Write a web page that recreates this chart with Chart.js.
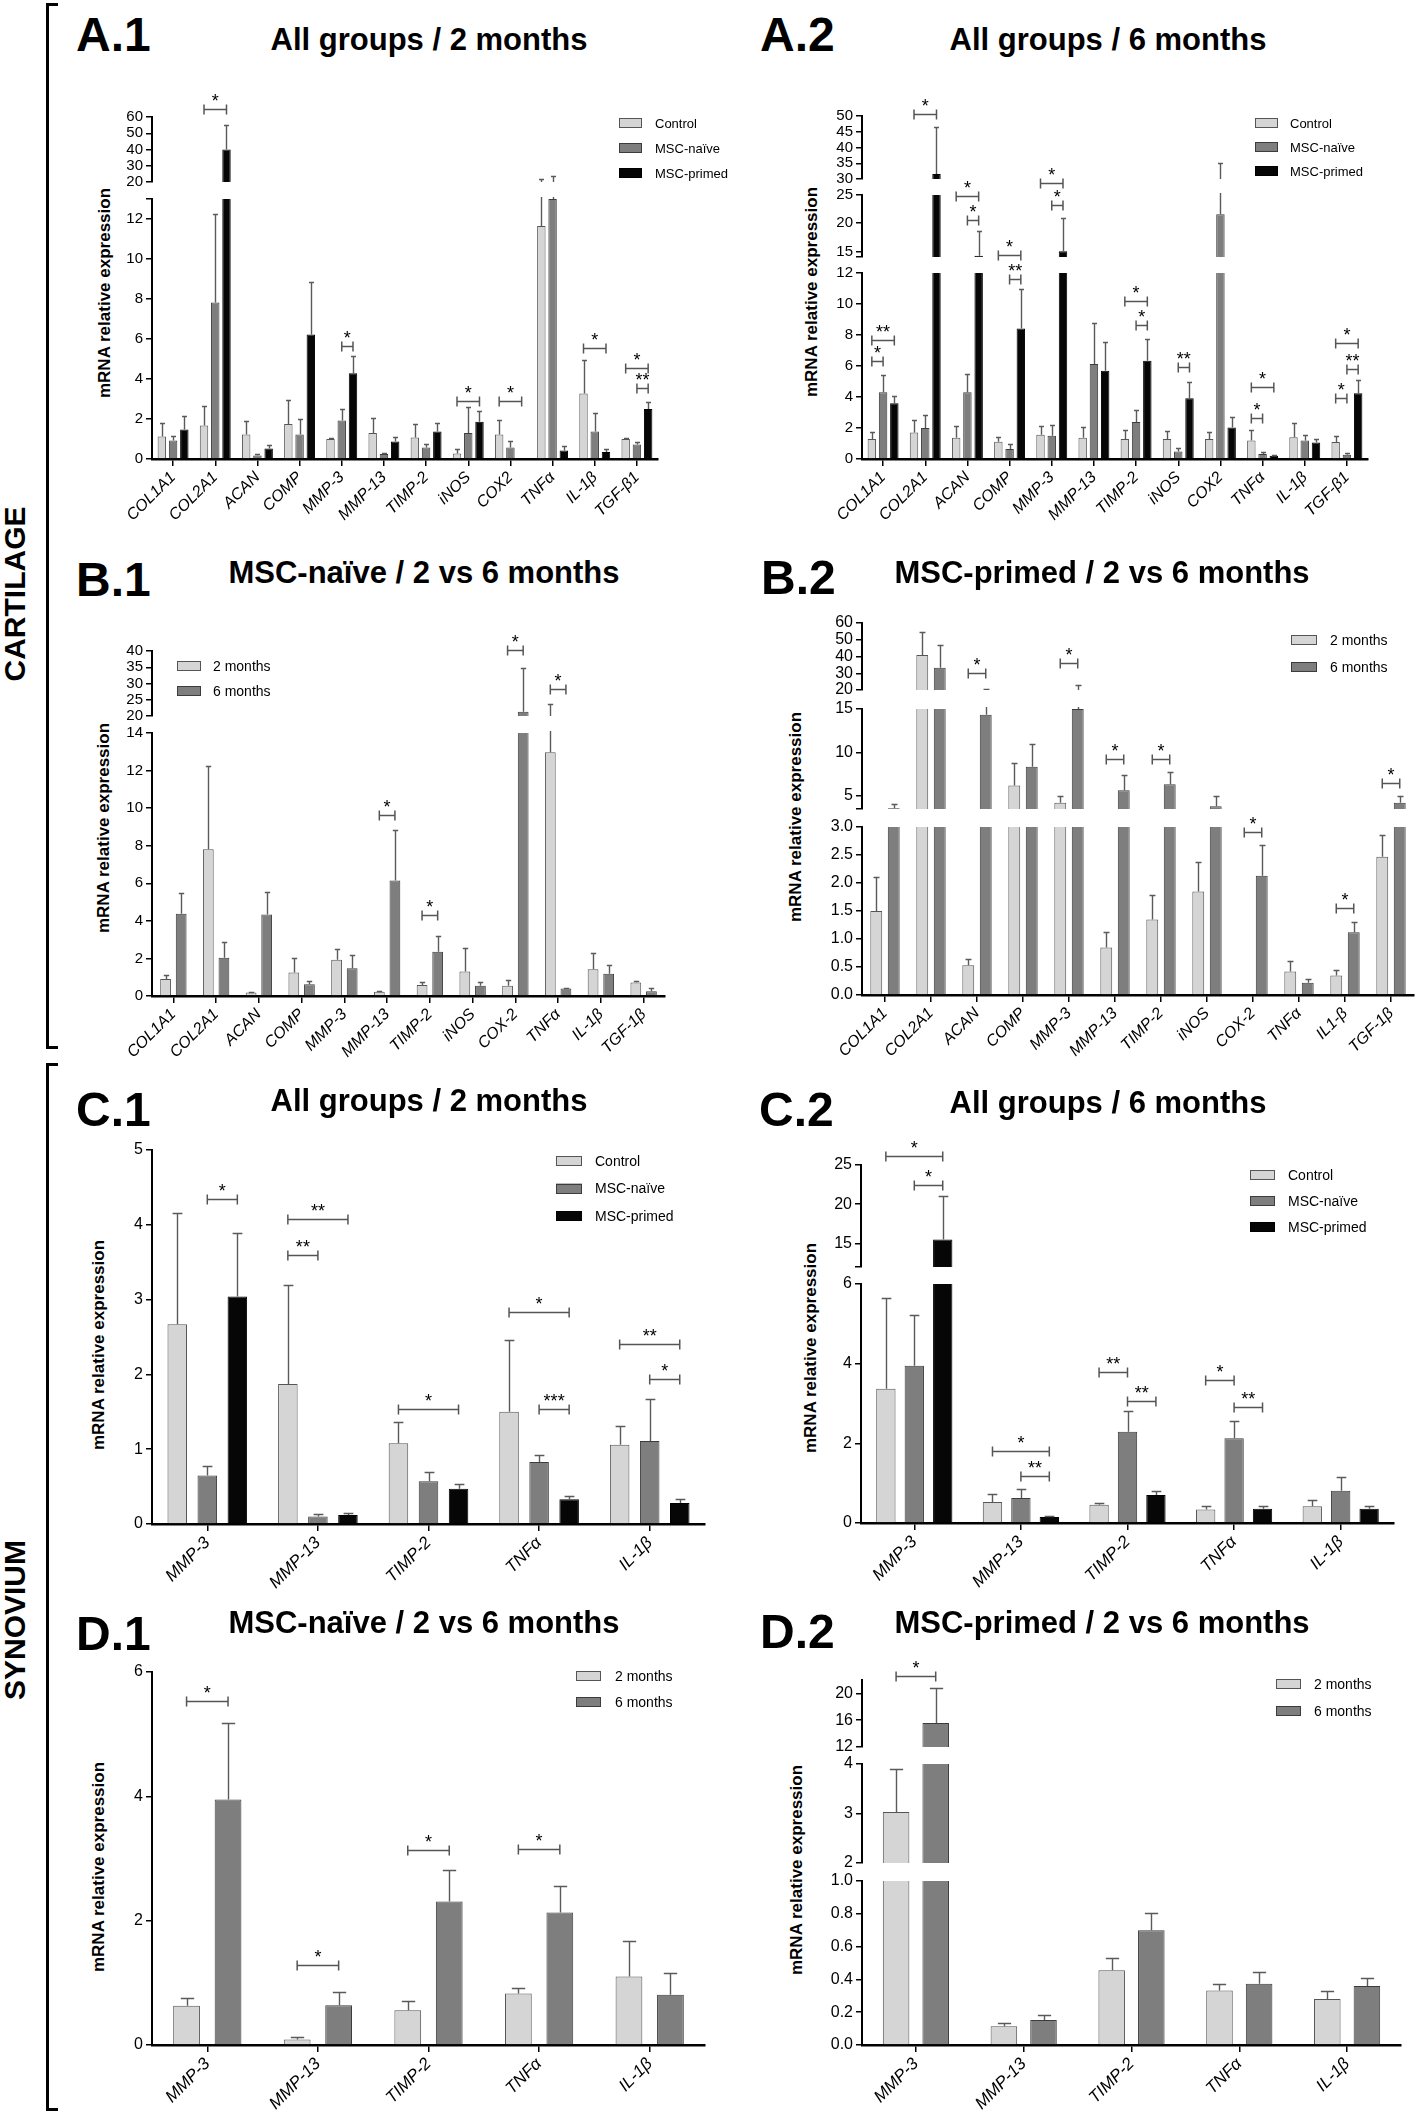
<!DOCTYPE html>
<html><head><meta charset="utf-8">
<script src="https://cdn.jsdelivr.net/npm/chart.js@4.4.1/dist/chart.umd.min.js"></script>
<style>
html,body{margin:0;padding:0;background:#fff;}
body{position:relative;width:1418px;height:2114px;overflow:hidden;font-family:'Liberation Sans',Arial,Helvetica,sans-serif;color:#000;}
.t{position:absolute;white-space:nowrap;line-height:1;}
.rot{position:absolute;white-space:nowrap;line-height:1;transform:translate(-50%,-50%) rotate(-90deg);font-weight:bold;}
.brk{position:absolute;background:#000;}
</style></head><body>
<script>
// ---------------- DATA ----------------
const catsA  = ['COL1A1','COL2A1','ACAN','COMP','MMP-3','MMP-13','TIMP-2','iNOS','COX2','TNFα','IL-1β','TGF-β1'];
const catsB1 = ['COL1A1','COL2A1','ACAN','COMP','MMP-3','MMP-13','TIMP-2','iNOS','COX-2','TNFα','IL-1β','TGF-1β'];
const catsB2 = ['COL1A1','COL2A1','ACAN','COMP','MMP-3','MMP-13','TIMP-2','iNOS','COX-2','TNFα','IL1-β','TGF-1β'];
const catsSyn = ['MMP-3','MMP-13','TIMP-2','TNFα','IL-1β'];
const groups3 = ['Control','MSC-naïve','MSC-primed'];
const groups2 = ['2 months','6 months'];

// A.1 cartilage, all groups, 2 months (mean, SEM)
const A1_control    = [1.13,1.68,1.22,1.75,1.00,1.30,1.08,0.28,1.22,11.65,3.28,1.00];
const A1_controlErr = [0.67,0.98,0.66,1.18,0.03,0.73,0.67,0.20,0.71,9.95,1.68,0.05];
const A1_naive      = [0.93,7.82,0.18,1.22,1.93,0.25,0.57,1.30,0.57,13.0,1.37,0.72];
const A1_naiveErr   = [0.20,4.41,0.09,0.78,0.57,0.05,0.18,1.28,0.31,10.7,0.91,0.11];
const A1_primed     = [1.47,40.0,0.53,6.22,4.29,0.87,1.37,1.86,0,0.43,0.35,2.50];
const A1_primedErr  = [0.66,14.9,0.15,2.63,0.84,0.21,0.41,0.52,0,0.24,0.15,0.35];
const A1_sig = [[1,0,2,65,'*'],[4,1,2,5.63,'*'],[7,0,2,2.88,'*'],[8,0,2,2.88,'*'],[10,0,2,5.54,'*'],[11,0,2,4.54,'*'],[11,1,2,3.55,'**']];
const A1_ranges = [[0,13],[20,60]];
const A1_ticks = [[0,2,4,6,8,10,12,13],[20,30,40,50,60]];
const A1_tickLabels = [['0','2','4','6','8','10','12',''],['20','30','40','50','60']];

// A.2 cartilage, all groups, 6 months
const A2_control    = [1.29,1.71,1.37,1.11,1.56,1.37,1.29,1.29,1.29,1.20,1.41,1.09];
const A2_controlErr = [0.45,0.78,0.73,0.28,0.54,0.69,0.60,0.53,0.45,0.64,0.90,0.37];
const A2_naive      = [4.31,2.00,4.31,0.64,1.50,6.13,2.38,0.49,21.6,0.32,1.20,0.28];
const A2_naiveErr   = [1.11,0.85,1.18,0.32,0.69,2.66,0.75,0.22,13.4,0.11,0.36,0.11];
const A2_primed     = [3.60,31.6,14.2,8.42,15.0,5.70,6.34,3.92,2.04,0.21,1.07,4.24];
const A2_primedErr  = [0.49,15.0,4.40,2.55,5.90,1.82,1.40,1.05,0.66,0.07,0.22,0.86];
const A2_sig = [[0,0,2,7.67,'**'],[0,0,1,6.32,'*'],[1,0,2,50.6,'*'],[2,0,2,24.8,'*'],[2,1,2,20.5,'*'],[3,0,2,14.3,'*'],[3,1,2,11.6,'**'],[4,0,2,27.2,'*'],[4,1,2,23.3,'*'],[6,0,2,10.18,'*'],[6,1,2,8.63,'*'],[7,1,2,5.96,'**'],[9,0,2,4.63,'*'],[9,0,1,2.64,'*'],[11,0,2,7.46,'*'],[11,1,2,5.79,'**'],[11,0,1,3.92,'*']];
const A2_ranges = [[0,12],[14,25],[30,50]];
const A2_ticks = [[0,2,4,6,8,10,12],[14,15,20,25],[30,35,40,45,50]];
const A2_tickLabels = [['0','2','4','6','8','10','12'],['','15','20','25'],['30','35','40','45','50']];

// B.1 cartilage, MSC-naive, 2 vs 6 months
const B1_2m    = [0.90,7.81,0.18,1.25,1.93,0.22,0.58,1.30,0.54,12.97,1.43,0.72];
const B1_2mErr = [0.22,4.43,0.04,0.78,0.55,0.05,0.18,1.27,0.31,10.7,0.87,0.09];
const B1_6m    = [4.38,2.03,4.34,0.63,1.48,6.15,2.35,0.54,21.3,0.40,1.19,0.25];
const B1_6mErr = [1.08,0.86,1.21,0.17,0.72,2.66,0.83,0.18,13.5,0.04,0.44,0.15];
const B1_sig = [[8,0,1,40.2,'*'],[9,0,1,28.4,'*'],[5,0,1,9.66,'*'],[6,0,1,4.29,'*']];
const B1_ranges = [[0,14],[20,40]];
const B1_ticks = [[0,2,4,6,8,10,12,14],[20,25,30,35,40]];
const B1_tickLabels = [['0','2','4','6','8','10','12','14'],['20','25','30','35','40']];

// B.2 cartilage, MSC-primed, 2 vs 6 months
const B2_2m    = [1.50,40.9,0.53,6.20,4.22,0.85,1.35,1.85,0,0.42,0.35,2.47];
const B2_2mErr = [0.60,14.0,0.12,2.63,0.78,0.28,0.44,0.53,0,0.19,0.10,0.38];
const B2_6m    = [3.60,33.3,14.34,8.36,15.0,5.66,6.36,3.83,2.13,0.22,1.12,4.22];
const B2_6mErr = [0.45,13.7,6.40,2.62,7.70,1.80,1.34,1.17,0.55,0.07,0.18,0.78];
const B2_sig = [[2,0,1,30.3,'*'],[4,0,1,36,'*'],[5,0,1,9.26,'*'],[6,0,1,9.26,'*'],[11,0,1,6.48,'*'],[8,0,1,2.91,'*'],[10,0,1,1.56,'*']];
const B2_ranges = [[0,3],[3.5,15],[20,60]];
const B2_ticks = [[0,0.5,1,1.5,2,2.5,3],[3.5,5,10,15],[20,30,40,50,60]];
const B2_tickLabels = [['0.0','0.5','1.0','1.5','2.0','2.5','3.0'],['','5','10','15'],['20','30','40','50','60']];

// C.1 synovium, all groups, 2 months
const C1_control    = [2.67,1.87,1.08,1.50,1.06];
const C1_controlErr = [1.49,1.33,0.28,0.96,0.25];
const C1_naive      = [0.65,0.10,0.57,0.83,1.11];
const C1_naiveErr   = [0.12,0.04,0.13,0.09,0.56];
const C1_primed     = [3.04,0.12,0.47,0.33,0.28];
const C1_primedErr  = [0.85,0.03,0.06,0.04,0.05];
const C1_sig = [[0,1,2,4.34,'*'],[1,0,2,4.08,'**'],[1,0,1,3.6,'**'],[2,0,2,1.54,'*'],[3,0,2,2.83,'*'],[3,1,2,1.54,'***'],[4,0,2,2.41,'**'],[4,1,2,1.94,'*']];
const C1_ranges = [[0,5]];
const C1_ticks = [[0,1,2,3,4,5]];
const C1_tickLabels = [['0','1','2','3','4','5']];

// C.2 synovium, all groups, 6 months
const C2_control    = [3.37,0.53,0.46,0.34,0.42];
const C2_controlErr = [2.27,0.21,0.04,0.08,0.15];
const C2_naive      = [3.95,0.63,2.29,2.13,0.81];
const C2_naiveErr   = [1.26,0.22,0.51,0.43,0.34];
const C2_primed     = [15.5,0.15,0.70,0.36,0.36];
const C2_primedErr  = [5.55,0.03,0.10,0.07,0.06];
const C2_sig = [[0,0,2,26.2,'*'],[0,1,2,22.4,'*'],[1,0,2,1.81,'*'],[1,1,2,1.17,'**'],[2,0,1,3.79,'**'],[2,1,2,3.06,'**'],[3,0,1,3.6,'*'],[3,1,2,2.9,'**']];
const C2_ranges = [[0,6],[12,25]];
const C2_ticks = [[0,2,4,6],[12,15,20,25]];
const C2_tickLabels = [['0','2','4','6'],['','15','20','25']];

// D.1 synovium, MSC-naive, 2 vs 6 months
const D1_2m    = [0.63,0.09,0.56,0.83,1.10];
const D1_2mErr = [0.13,0.04,0.14,0.08,0.58];
const D1_6m    = [3.95,0.64,2.31,2.13,0.81];
const D1_6mErr = [1.23,0.22,0.50,0.43,0.35];
const D1_sig = [[0,0,1,5.53,'*'],[1,0,1,1.28,'*'],[2,0,1,3.14,'*'],[3,0,1,3.15,'*']];
const D1_ranges = [[0,6]];
const D1_ticks = [[0,2,4,6]];
const D1_tickLabels = [['0','2','4','6']];

// D.2 synovium, MSC-primed, 2 vs 6 months
const D2_2m    = [3.03,0.115,0.456,0.333,0.281];
const D2_2mErr = [0.86,0.018,0.074,0.040,0.046];
const D2_6m    = [15.6,0.152,0.700,0.373,0.360];
const D2_6mErr = [5.27,0.028,0.106,0.073,0.050];
const D2_sig = [[0,0,1,22.6,'*']];
const D2_ranges = [[0,1],[2,4],[12,22]];
const D2_ticks = [[0,0.2,0.4,0.6,0.8,1],[2,3,4],[12,16,20]];
const D2_tickLabels = [['0.0','0.2','0.4','0.6','0.8','1.0'],['2','3','4'],['12','16','20']];

// ---------------- STYLE / LAYOUT ----------------
const FONT = "'Liberation Sans', Arial, Helvetica, sans-serif";
const C_LIGHT = '#d5d5d5', C_MID = '#7e7e7e', C_DARK = '#060606';
const YW = 50, XH = 80;

function txt(str, x, baseline, size, weight, align) {
  const d = document.createElement('div');
  d.className = 't'; d.textContent = str;
  d.style.font = (weight || 'normal') + ' ' + size + 'px ' + FONT;
  d.style.top = (baseline - 0.8465 * size) + 'px';
  d.style.left = x + 'px';
  if (align === 'center') d.style.transform = 'translateX(-50%)';
  document.body.appendChild(d);
}
function rtxt(str, cx, cy, size) {
  const d = document.createElement('div');
  d.className = 'rot'; d.textContent = str;
  d.style.fontSize = size + 'px'; d.style.left = cx + 'px'; d.style.top = cy + 'px';
  document.body.appendChild(d);
}
function box(x, y, w, h) {
  const d = document.createElement('div'); d.className = 'brk';
  Object.assign(d.style, {left: x + 'px', top: y + 'px', width: w + 'px', height: h + 'px'});
  document.body.appendChild(d);
}

// side brackets & labels
box(46, 3, 3, 1046); box(46, 3, 12, 3); box(46, 1046, 12, 3);
box(46, 1063, 3, 1048); box(46, 1063, 12, 3); box(46, 2108, 12, 3);
rtxt('CARTILAGE', 15, 594, 30);
rtxt('SYNOVIUM', 15, 1620, 30);

const panels = [
  {lab:'A.1', title:'All groups / 2 months', labX:76, labB:48, titleX:429, titleB:48, yTitle:[104,293],
   cats:catsA, names:groups3, vals:[A1_control,A1_naive,A1_primed], errs:[A1_controlErr,A1_naiveErr,A1_primedErr], sig:A1_sig,
   ranges:A1_ranges, ticks:A1_ticks, tickLabels:A1_tickLabels,
   axisL:152, axisR:658, segPx:[[199,459],[117,182]], cTop:70, bar:0.75, cat:0.8, xFont:16, yFont:15,
   legend:{x:619,y0:123,dy:25,tx:655,bw:23,bh:10,font:13}},
  {lab:'A.2', title:'All groups / 6 months', labX:760, labB:48, titleX:1108, titleB:48, yTitle:[811,292],
   cats:catsA, names:groups3, vals:[A2_control,A2_naive,A2_primed], errs:[A2_controlErr,A2_naiveErr,A2_primedErr], sig:A2_sig,
   ranges:A2_ranges, ticks:A2_ticks, tickLabels:A2_tickLabels,
   axisL:862, axisR:1368, segPx:[[273,459],[195,257],[116,179]], cTop:70, bar:0.75, cat:0.8, xFont:16, yFont:15,
   legend:{x:1255,y0:123,dy:24,tx:1290,bw:23,bh:10,font:13}},
  {lab:'B.1', title:'MSC-naïve / 2 vs 6 months', labX:76, labB:593, titleX:424, titleB:581, yTitle:[103,828],
   cats:catsB1, names:groups2, vals:[B1_2m,B1_6m], errs:[B1_2mErr,B1_6mErr], sig:B1_sig,
   ranges:B1_ranges, ticks:B1_ticks, tickLabels:B1_tickLabels,
   axisL:152, axisR:665, segPx:[[733,996],[651,716]], cTop:600, bar:0.69, cat:0.73, xFont:16, yFont:15,
   legend:{x:177,y0:666,dy:25,tx:213,bw:24,bh:10,font:14}},
  {lab:'B.2', title:'MSC-primed / 2 vs 6 months', labX:761, labB:591, titleX:1102, titleB:581, yTitle:[795,817],
   cats:catsB2, names:groups2, vals:[B2_2m,B2_6m], errs:[B2_2mErr,B2_6mErr], sig:B2_sig,
   ranges:B2_ranges, ticks:B2_ticks, tickLabels:B2_tickLabels,
   axisL:862, axisR:1414, segPx:[[827,995],[709,809],[623,690]], cTop:600, bar:0.68, cat:0.76, xFont:16, yFont:16,
   legend:{x:1291,y0:640,dy:27,tx:1330,bw:26,bh:10,font:14}},
  {lab:'C.1', title:'All groups / 2 months', labX:76, labB:1123, titleX:429, titleB:1109, yTitle:[98,1345],
   cats:catsSyn, names:groups3, vals:[C1_control,C1_naive,C1_primed], errs:[C1_controlErr,C1_naiveErr,C1_primedErr], sig:C1_sig,
   ranges:C1_ranges, ticks:C1_ticks, tickLabels:C1_tickLabels,
   axisL:152, axisR:705, segPx:[[1150,1524]], cTop:1125, bar:0.65, cat:0.815, xFont:17, yFont:16,
   legend:{x:556,y0:1161,dy:27.5,tx:595,bw:26,bh:10,font:14}},
  {lab:'C.2', title:'All groups / 6 months', labX:759, labB:1123, titleX:1108, titleB:1111, yTitle:[810,1348],
   cats:catsSyn, names:groups3, vals:[C2_control,C2_naive,C2_primed], errs:[C2_controlErr,C2_naiveErr,C2_primedErr], sig:C2_sig,
   ranges:C2_ranges, ticks:C2_ticks, tickLabels:C2_tickLabels,
   axisL:861, axisR:1394, segPx:[[1284,1523],[1165,1267]], cTop:1125, bar:0.68, cat:0.8, xFont:17, yFont:16,
   legend:{x:1250,y0:1175,dy:26,tx:1288,bw:25,bh:10,font:14}},
  {lab:'D.1', title:'MSC-naïve / 2 vs 6 months', labX:76, labB:1647, titleX:424, titleB:1631, yTitle:[98,1867],
   cats:catsSyn, names:groups2, vals:[D1_2m,D1_6m], errs:[D1_2mErr,D1_6mErr], sig:D1_sig,
   ranges:D1_ranges, ticks:D1_ticks, tickLabels:D1_tickLabels,
   axisL:152, axisR:705, segPx:[[1672,2045]], cTop:1645, bar:0.645, cat:0.75, xFont:17, yFont:16,
   legend:{x:576,y0:1676,dy:26,tx:615,bw:25,bh:10,font:14}},
  {lab:'D.2', title:'MSC-primed / 2 vs 6 months', labX:760, labB:1645, titleX:1102, titleB:1631, yTitle:[796,1870],
   cats:catsSyn, names:groups2, vals:[D2_2m,D2_6m], errs:[D2_2mErr,D2_6mErr], sig:D2_sig,
   ranges:D2_ranges, ticks:D2_ticks, tickLabels:D2_tickLabels,
   axisL:862, axisR:1401, segPx:[[1881,2045],[1764,1863],[1680,1747]], cTop:1645, bar:0.67, cat:0.735, xFont:17, yFont:16,
   legend:{x:1276,y0:1684,dy:27,tx:1314,bw:25,bh:10,font:14}}
];

function errPlugin() {
  return { id: 'errbars', afterDatasetsDraw(chart) {
    const ctx = chart.ctx, ca = chart.chartArea, ys = chart.scales.y;
    ctx.save();
    ctx.beginPath(); ctx.rect(ca.left, ca.top - 2, ca.right - ca.left, ca.bottom - ca.top + 2); ctx.clip();
    ctx.strokeStyle = '#5a5a5a'; ctx.lineWidth = 1.4;
    chart.data.datasets.forEach((ds, di) => {
      const meta = chart.getDatasetMeta(di);
      meta.data.forEach((bar, i) => {
        const v = ds.data[i], e = ds.err[i];
        if (!e) return;
        const x = Math.round(bar.x) + 0.5;
        const y0 = ys.getPixelForValue(v), y1 = Math.round(ys.getPixelForValue(v + e)) + 0.5;
        const hw = Math.max(2.5, bar.width * 0.25);
        ctx.beginPath(); ctx.moveTo(x, y0); ctx.lineTo(x, y1);
        ctx.moveTo(x - hw, y1); ctx.lineTo(x + hw, y1); ctx.stroke();
      });
    });
    ctx.restore();
  }};
}
function sigPlugin(items) {
  return { id: 'sig', afterDraw(chart) {
    const ctx = chart.ctx, ys = chart.scales.y;
    ctx.save();
    ctx.strokeStyle = '#555'; ctx.lineWidth = 1.5; ctx.fillStyle = '#000';
    ctx.font = '18px ' + FONT; ctx.textAlign = 'center'; ctx.textBaseline = 'alphabetic';
    items.forEach(([ci, a, b, v, lab]) => {
      const xa = chart.getDatasetMeta(a).data[ci].x, xb = chart.getDatasetMeta(b).data[ci].x;
      const y = Math.round(ys.getPixelForValue(v)) + 0.5;
      ctx.beginPath(); ctx.moveTo(xa, y); ctx.lineTo(xb, y);
      ctx.moveTo(xa, y - 5); ctx.lineTo(xa, y + 5); ctx.moveTo(xb, y - 5); ctx.lineTo(xb, y + 5);
      ctx.stroke();
      ctx.fillText(lab, (xa + xb) / 2, y - 3);
    });
    ctx.restore();
  }};
}
function legendPlugin(lg, names, colors, borders, offX, offY) {
  return { id: 'lg', afterDraw(chart) {
    const ctx = chart.ctx;
    ctx.save();
    ctx.font = lg.font + 'px ' + FONT; ctx.textBaseline = 'middle'; ctx.textAlign = 'left';
    names.forEach((n, i) => {
      const y = lg.y0 + i * lg.dy - offY, x = lg.x - offX;
      ctx.fillStyle = colors[i]; ctx.fillRect(x, y - lg.bh / 2, lg.bw, lg.bh);
      ctx.strokeStyle = borders[i]; ctx.lineWidth = 1;
      ctx.strokeRect(Math.round(x) + 0.5, Math.round(y - lg.bh / 2) + 0.5, lg.bw - 1, lg.bh - 1);
      ctx.fillStyle = '#000'; ctx.fillText(n, lg.tx - offX, y + 1);
    });
    ctx.restore();
  }};
}

panels.forEach(p => {
  txt(p.lab, p.labX, p.labB, 48, 'bold');
  txt(p.title, p.titleX, p.titleB, 31, 'bold', 'center');
  rtxt('mRNA relative expression', p.yTitle[0], p.yTitle[1], 17);

  const cLeft = p.axisL - YW - 8, cTop = p.cTop;
  const zeroPx = p.segPx[0][1];
  const cBottom = zeroPx + XH + 12;
  const cRight = Math.max(p.axisR + 14, p.legend.tx + 110);
  const cW = cRight - cLeft, cH = cBottom - cTop;
  const three = p.vals.length === 3;
  const colors = three ? [C_LIGHT, C_MID, C_DARK] : [C_LIGHT, C_MID];
  const borders = three ? ['#555', '#3c3c3c', '#000'] : ['#555', '#3c3c3c'];
  const segSig = p.ranges.map(() => []);
  p.sig.forEach(s => { let k = 0; p.ranges.forEach((r, i) => { if (r[0] <= s[3]) k = i; }); segSig[k].push(s); });

  p.ranges.forEach((r, si) => {
    const cv = document.createElement('canvas');
    cv.width = cW; cv.height = cH;
    Object.assign(cv.style, {position: 'absolute', left: cLeft + 'px', top: cTop + 'px', width: cW + 'px', height: cH + 'px'});
    document.body.appendChild(cv);
    const isBottom = si === 0;
    const [pt, pb] = p.segPx[si];
    const padding = {left: 8, right: cRight - p.axisR, top: pt - cTop, bottom: cH - (pb - cTop) - (isBottom ? XH : 0)};
    const datasets = p.vals.map((v, di) => ({
      label: p.names[di], data: v, err: p.errs[di],
      backgroundColor: colors[di], borderColor: borders[di], borderWidth: 1,
      barPercentage: p.bar, categoryPercentage: p.cat
    }));
    const plugins = [errPlugin(), sigPlugin(segSig[si])];
    if (isBottom) plugins.push(legendPlugin(p.legend, p.names, colors, borders, cLeft, cTop));
    new Chart(cv, {
      type: 'bar',
      data: {labels: p.cats, datasets},
      options: {
        responsive: false, animation: false, devicePixelRatio: 1,
        layout: {padding},
        plugins: {legend: {display: false}, tooltip: {enabled: false}},
        scales: {
          x: {display: isBottom, offset: true,
              grid: {display: true, drawOnChartArea: false, drawTicks: true, tickLength: 7, offset: false, color: '#000', lineWidth: 1.5},
              border: {display: true, color: '#000', width: 2.5},
              ticks: {autoSkip: false, maxRotation: 45, minRotation: 45, font: {size: p.xFont, style: 'italic', family: FONT}, color: '#000', padding: 2},
              afterFit: s => { if (isBottom) s.height = XH; }},
          y: {min: r[0], max: r[1],
              grid: {display: true, drawOnChartArea: false, drawTicks: true, tickLength: 6, color: '#000', lineWidth: 1.5},
              border: {display: true, color: '#000', width: 2},
              ticks: {autoSkip: false, font: {size: p.yFont, family: FONT}, color: '#000', padding: 3,
                      callback: (v, i) => p.tickLabels[si][i]},
              afterBuildTicks: s => { s.ticks = p.ticks[si].map(v => ({value: v})); },
              afterFit: s => { s.width = YW; }}
        }
      },
      plugins
    });
  });
});
</script>
</body></html>
